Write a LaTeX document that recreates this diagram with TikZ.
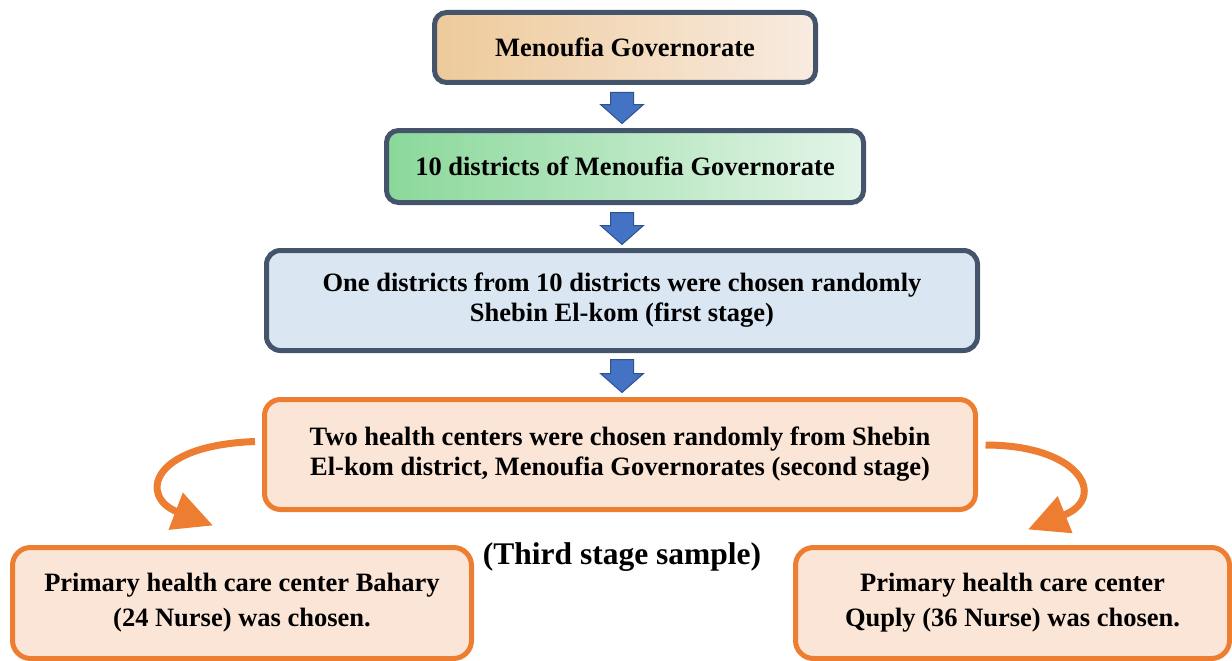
\documentclass[tikz,border=0pt]{standalone}
\usepackage{fontspec}
\setmainfont{LiberationSerif}[Extension=.ttf, UprightFont=*-Regular, BoldFont=*-Bold, ItalicFont=*-Italic, BoldItalicFont=*-BoldItalic]
\usetikzlibrary{calc,arrows.meta}
\definecolor{slate}{HTML}{44546A}
\definecolor{orng}{HTML}{ED7D31}
\definecolor{peach}{HTML}{FBE5D6}
\definecolor{tanL}{HTML}{EECA9A}
\definecolor{tanR}{HTML}{F8EBE0}
\definecolor{grnL}{HTML}{8AD89A}
\definecolor{grnR}{HTML}{E4F5E8}
\definecolor{blu}{HTML}{DAE6F2}
\definecolor{arrfill}{HTML}{4472C4}
\definecolor{arrdraw}{HTML}{2F528F}
\tikzset{
  box/.style={rectangle, line width=5pt, align=center, inner sep=0pt,
    font=\fontsize{26.5}{30}\selectfont\bfseries},
  slatebox/.style={box, draw=slate},
  orangebox/.style={box, draw=orng, fill=peach},
  blockarrow/.style={fill=arrfill, draw=arrdraw, line width=1pt, line join=miter},
  curvearrow/.style={draw=orng, line width=7pt, -{Triangle[length=40pt,width=38pt]}},
}
\newcommand{\blockarr}[4]{%
  \path[blockarrow] let \p1=(#1.south), \p2=(#2.north) in
    (622pt-11.5pt,\y1+#3) -- (622pt+11.5pt,\y1+#3) -- (622pt+11.5pt,\y2+#4+19pt)
    -- (622pt+21.5pt,\y2+#4+19pt) -- (622pt,\y2+#4) -- (622pt-21.5pt,\y2+#4+19pt)
    -- (622pt-11.5pt,\y2+#4+19pt) -- cycle;}
\begin{document}
\begin{tikzpicture}[x=1pt,y=-1pt]
\useasboundingbox (0,0) rectangle (1232,661);
\node[slatebox, rounded corners=12pt, left color=tanL, right color=tanR,
  minimum width=381pt, minimum height=70pt] (b1) at (625,47.5) {Menoufia Governorate};
\node[slatebox, rounded corners=12pt, left color=grnL, right color=grnR,
  minimum width=477pt, minimum height=72pt] (b2) at (625,166.5) {10 districts of Menoufia Governorate};
\node[slatebox, rounded corners=14pt, fill=blu,
  minimum width=711pt, minimum height=100pt] (b3) at (622,300.5)
  {One districts from 10 districts were chosen randomly\\Shebin El-kom (first stage)};
\node[orangebox, rounded corners=16pt,
  minimum width=711pt, minimum height=110pt] (b4) at (620,454.5)
  {Two health centers were chosen randomly from Shebin\\El-kom district, Menoufia Governorates (second stage)};
\node[orangebox, rounded corners=18pt, font=\fontsize{26.5}{35}\selectfont\bfseries,
  minimum width=459pt, minimum height=111pt] (b5) at (242,603)
  {Primary health care center Bahary\\(24 Nurse) was chosen.};
\node[orangebox, rounded corners=18pt, font=\fontsize{26.5}{35}\selectfont\bfseries,
  minimum width=434pt, minimum height=111pt] (b6) at (1012.5,603)
  {Primary health care center\\Quply (36 Nurse) was chosen.};
\node[font=\fontsize{31.5}{36}\selectfont\bfseries, inner sep=0pt] (t3) at (622,557) {(Third stage sample)};
\blockarr{b1}{b2}{-7.5pt}{4.5pt}
\blockarr{b2}{b3}{-7.5pt}{3.5pt}
\blockarr{b3}{b4}{-6.5pt}{4.5pt}
\draw[curvearrow] ($(b4.west)+(-7,-13)$) .. controls +(-107,4) and +(-73,-28) .. ($(b5.north)+(-29,-19.5)$);
\draw[curvearrow] ($(b4.east)+(7.5,-9.5)$) .. controls +(95,0) and +(80,-32) .. ($(b6.north)+(15.5,-15.5)$);
\end{tikzpicture}
\end{document}
